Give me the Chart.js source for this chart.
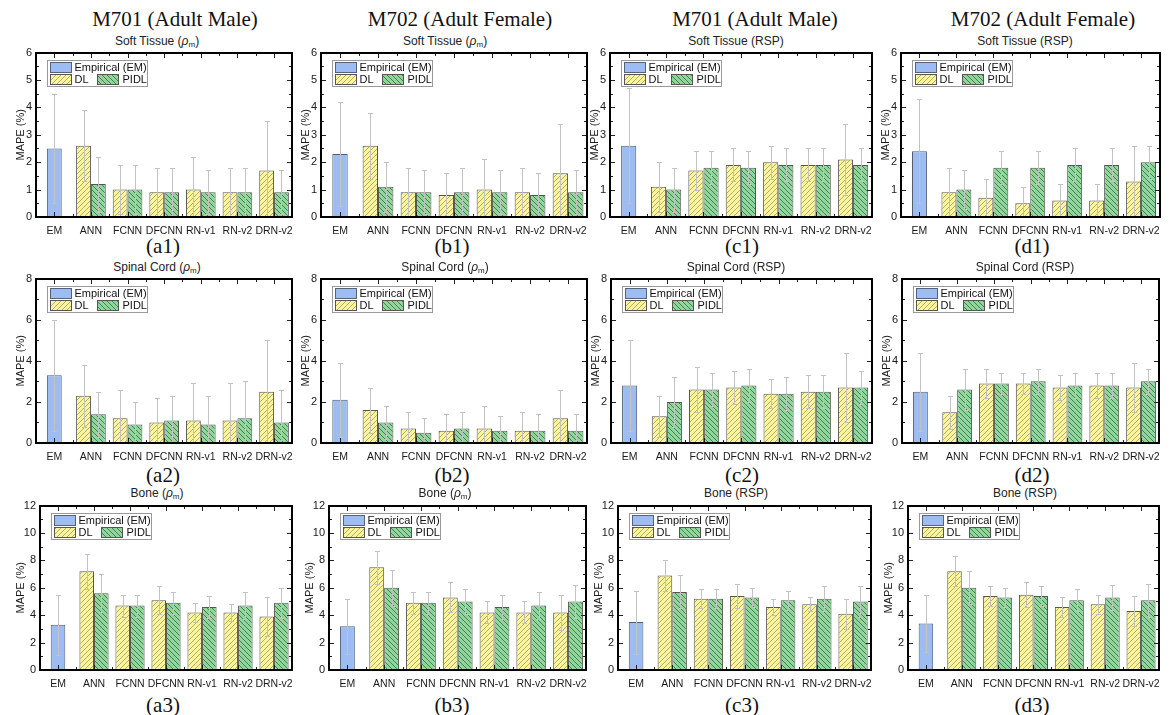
<!DOCTYPE html>
<html>
<head>
<meta charset="utf-8">
<script src="https://cdn.jsdelivr.net/npm/chart.js@4.4.1/dist/chart.umd.min.js"></script>
<style>
body { margin: 0; background: #fff; }
#fig { position: relative; width: 1174px; height: 715px; overflow: hidden; font-family: Arial, "Liberation Sans", sans-serif; }
.t { position: absolute; transform: translate(-50%, -50%); white-space: nowrap; }
.head { font-family: "Liberation Serif", "Times New Roman", serif; font-size: 21px; color: #111; }
.sub { font-size: 12px; color: #222; }
.sub sub { font-size: 8px; vertical-align: -2px; }
.frame { position: absolute; box-sizing: border-box; border: 2px solid #000; pointer-events: none; z-index: 5; }
canvas { position: absolute; }
</style>
</head>
<body>
<div id="fig"></div>
<script>
// categories and panel info
const categories = ["EM", "ANN", "FCNN", "DFCNN", "RN-v1", "RN-v2", "DRN-v2"];
const panelIds = ["a1", "b1", "c1", "d1", "a2", "b2", "c2", "d2", "a3", "b3", "c3", "d3"];
const colTitles = ["M701 (Adult Male)", "M702 (Adult Female)", "M701 (Adult Male)", "M702 (Adult Female)"];
const rowTitles = ["Soft Tissue", "Spinal Cord", "Bone"];
const quantities = ["rho", "rho", "RSP", "RSP"];
const yMax = [6, 8, 12];
const yStep = [1, 2, 2];

// Empirical (EM) mean and error, one per panel
const emMean = [2.5, 2.3, 2.6, 2.4, 3.3, 2.1, 2.8, 2.5, 3.3, 3.2, 3.5, 3.4];
const emErr  = [2.0, 1.9, 2.1, 1.9, 2.7, 1.8, 2.2, 1.9, 2.2, 2.0, 2.3, 2.1];

// DL / PIDL values for ANN, FCNN, DFCNN, RN-v1, RN-v2, DRN-v2
const a1DL = [2.6, 1.0, 0.9, 1.0, 0.9, 1.7], a1DLErr = [1.3, 0.9, 0.9, 1.2, 0.9, 1.8];
const a1PIDL = [1.2, 1.0, 0.9, 0.9, 0.9, 0.9], a1PIDLErr = [1.0, 0.9, 0.9, 0.8, 0.9, 0.8];
const b1DL = [2.6, 0.9, 0.8, 1.0, 0.9, 1.6], b1DLErr = [1.2, 0.9, 0.8, 1.1, 0.9, 1.8];
const b1PIDL = [1.1, 0.9, 0.9, 0.9, 0.8, 0.9], b1PIDLErr = [0.9, 0.8, 0.9, 0.8, 0.8, 0.8];
const c1DL = [1.1, 1.7, 1.9, 2.0, 1.9, 2.1], c1DLErr = [0.9, 0.7, 0.6, 0.6, 0.6, 1.3];
const c1PIDL = [1.0, 1.8, 1.8, 1.9, 1.9, 1.9], c1PIDLErr = [0.8, 0.6, 0.6, 0.6, 0.6, 0.6];
const d1DL = [0.9, 0.7, 0.5, 0.6, 0.6, 1.3], d1DLErr = [0.9, 0.7, 0.6, 0.6, 0.6, 1.3];
const d1PIDL = [1.0, 1.8, 1.8, 1.9, 1.9, 2.0], d1PIDLErr = [0.7, 0.6, 0.6, 0.6, 0.6, 0.6];

const a2DL = [2.3, 1.2, 1.0, 1.1, 1.1, 2.5], a2DLErr = [1.5, 1.4, 1.2, 1.8, 1.8, 2.5];
const a2PIDL = [1.4, 0.9, 1.1, 0.9, 1.2, 1.0], a2PIDLErr = [1.1, 1.1, 1.2, 1.4, 1.8, 1.6];
const b2DL = [1.6, 0.7, 0.6, 0.7, 0.6, 1.2], b2DLErr = [1.1, 0.8, 0.8, 1.1, 0.9, 1.4];
const b2PIDL = [1.0, 0.5, 0.7, 0.6, 0.6, 0.6], b2PIDLErr = [0.8, 0.7, 0.8, 0.7, 0.8, 0.8];
const c2DL = [1.3, 2.6, 2.7, 2.4, 2.5, 2.7], c2DLErr = [1.0, 1.1, 0.8, 0.7, 0.8, 1.7];
const c2PIDL = [2.0, 2.6, 2.8, 2.4, 2.5, 2.7], c2PIDLErr = [1.2, 0.8, 0.8, 0.8, 0.8, 0.8];
const d2DL = [1.5, 2.9, 2.9, 2.7, 2.8, 2.7], d2DLErr = [0.8, 0.7, 0.5, 0.6, 0.6, 1.2];
const d2PIDL = [2.6, 2.9, 3.0, 2.8, 2.8, 3.0], d2PIDLErr = [1.0, 0.5, 0.6, 0.6, 0.6, 0.6];

const a3DL = [7.2, 4.7, 5.1, 4.2, 4.2, 3.9], a3DLErr = [1.3, 0.8, 1.0, 0.7, 0.6, 1.4];
const a3PIDL = [5.6, 4.7, 4.9, 4.6, 4.7, 4.9], a3PIDLErr = [1.4, 0.8, 0.8, 0.8, 1.0, 1.1];
const b3DL = [7.5, 4.9, 5.3, 4.2, 4.2, 4.2], b3DLErr = [1.2, 0.8, 1.1, 0.8, 0.8, 1.3];
const b3PIDL = [6.0, 4.9, 5.0, 4.6, 4.7, 5.0], b3PIDLErr = [1.3, 0.8, 0.9, 0.9, 1.0, 1.2];
const c3DL = [6.9, 5.2, 5.4, 4.6, 4.8, 4.1], c3DLErr = [1.1, 0.7, 0.9, 0.6, 0.5, 1.1];
const c3PIDL = [5.7, 5.2, 5.3, 5.1, 5.2, 5.0], c3PIDLErr = [1.2, 0.7, 0.7, 0.7, 0.9, 1.1];
const d3DL = [7.2, 5.4, 5.5, 4.6, 4.8, 4.3], d3DLErr = [1.1, 0.7, 0.9, 0.7, 0.7, 1.1];
const d3PIDL = [6.0, 5.3, 5.4, 5.1, 5.3, 5.1], d3PIDLErr = [1.2, 0.7, 0.7, 0.8, 0.9, 1.2];

const dlMeans = [a1DL, b1DL, c1DL, d1DL, a2DL, b2DL, c2DL, d2DL, a3DL, b3DL, c3DL, d3DL];
const dlErrs = [a1DLErr, b1DLErr, c1DLErr, d1DLErr, a2DLErr, b2DLErr, c2DLErr, d2DLErr, a3DLErr, b3DLErr, c3DLErr, d3DLErr];
const pidlMeans = [a1PIDL, b1PIDL, c1PIDL, d1PIDL, a2PIDL, b2PIDL, c2PIDL, d2PIDL, a3PIDL, b3PIDL, c3PIDL, d3PIDL];
const pidlErrs = [a1PIDLErr, b1PIDLErr, c1PIDLErr, d1PIDLErr, a2PIDLErr, b2PIDLErr, c2PIDLErr, d2PIDLErr, a3PIDLErr, b3PIDLErr, c3PIDLErr, d3PIDLErr];

// layout of the plot areas (pixels on the page)
const plotLeft = [[36, 321, 610, 901], [36, 321, 611, 902], [40, 329, 618, 908]];
const plotRight = [297, 591, 876, 1164];
const plotTop = [50, 276, 503];
const plotBottom = [217, 443, 670];
const colCenter = [175, 460, 755, 1043];
const subCenter = [157, 445, 736, 1025];
const labelCenter = [163, 452, 742, 1032];
const subY = [41, 267, 493];
const labelY = [246, 475, 705];

const fig = document.getElementById('fig');

function addText(cls, html, x, y) {
    const d = document.createElement('div');
    d.className = 't ' + cls;
    d.innerHTML = html;
    d.style.left = x + 'px';
    d.style.top = y + 'px';
    fig.appendChild(d);
}

//Hatch fills
function hatch(bg, fg, dir) {
    const s = 5;
    const c = document.createElement('canvas');
    c.width = s; c.height = s;
    const g = c.getContext('2d');
    g.fillStyle = bg;
    g.fillRect(0, 0, s, s);
    g.strokeStyle = fg;
    g.lineWidth = 1;
    g.beginPath();
    if (dir > 0) {
        g.moveTo(-1, s + 1); g.lineTo(s + 1, -1);
        g.moveTo(-1, 1); g.lineTo(1, -1);
        g.moveTo(s - 1, s + 1); g.lineTo(s + 1, s - 1);
    } else {
        g.moveTo(-1, -1); g.lineTo(s + 1, s + 1);
        g.moveTo(s - 1, -1); g.lineTo(s + 1, 1);
        g.moveTo(-1, s - 1); g.lineTo(1, s + 1);
    }
    g.stroke();
    return g.createPattern(c, 'repeat');
}

const emFill = '#9dbdf2';
const dlFill = hatch('#f8f4a4', '#b9b04c', 1);
const pidlFill = hatch('#93d39c', '#3a8750', -1);
const frameColor = '#222222';

// error bars, inward ticks and the legend box
const overlayPlugin = {
    id: 'overlay',
    afterDatasetsDraw(chart) {
        const ctx = chart.ctx, a = chart.chartArea, ys = chart.scales.y;
        ctx.save();
        ctx.strokeStyle = '#c2c2c2';
        ctx.lineWidth = 1;
        chart.data.datasets.forEach((ds, i) => {
            chart.getDatasetMeta(i).data.forEach((bar, j) => {
                const v = ds.data[j];
                if (v === null) return;
                const e = ds.errors[j];
                const px = Math.round(bar.x) + 0.5;
                const top = Math.round(ys.getPixelForValue(v + e)) + 0.5;
                const bot = Math.round(ys.getPixelForValue(Math.max(0, v - e))) + 0.5;
                ctx.beginPath();
                ctx.moveTo(px, top); ctx.lineTo(px, bot);
                ctx.moveTo(px - 2.5, top); ctx.lineTo(px + 2.5, top);
                ctx.moveTo(px - 2.5, bot); ctx.lineTo(px + 2.5, bot);
                ctx.stroke();
            });
        });

        // inward ticks
        const L = Math.round(a.left), R = Math.round(a.right);
        const T = Math.round(a.top), B = Math.round(a.bottom);
        ctx.fillStyle = frameColor;
        const step = ys.options.ticks.stepSize;
        for (let v = 0; v <= ys.max + 1e-9; v += step / 2) {
            const py = Math.round(ys.getPixelForValue(v));
            const len = Math.abs(v / step - Math.round(v / step)) < 1e-6 ? 5 : 3;
            ctx.fillRect(L, py, len, 1);
            ctx.fillRect(R - len, py, len, 1);
        }
        const n = categories.length, cw = (a.right - a.left) / n;
        for (let k = 1; k < 2 * n; k++) {
            const px = Math.round(a.left + k * cw / 2);
            const len = k % 2 === 1 ? 5 : 3;
            ctx.fillRect(px, T, 1, len);
            ctx.fillRect(px, B - len, 1, len);
        }

        // legend
        const bx = L + 11.5, by = T + 7.5;
        ctx.fillStyle = '#ffffff';
        ctx.fillRect(bx, by, 100, 26);
        ctx.strokeStyle = '#9a9a9a';
        ctx.strokeRect(bx, by, 100, 26);
        const sw = (x, y, fill, border) => {
            ctx.fillStyle = fill;
            ctx.fillRect(x, y, 21, 10);
            ctx.strokeStyle = border;
            ctx.strokeRect(x, y, 21, 10);
        };
        sw(bx + 3, by + 2, emFill, '#55627a');
        sw(bx + 3, by + 14, dlFill, '#555');
        sw(bx + 50, by + 14, pidlFill, '#555');
        ctx.fillStyle = '#111';
        ctx.font = '11px Arial, "Liberation Sans", sans-serif';
        ctx.textBaseline = 'middle';
        ctx.textAlign = 'left';
        ctx.fillText('Empirical (EM)', bx + 27, by + 7.5);
        ctx.fillText('DL', bx + 27, by + 19.5);
        ctx.fillText('PIDL', bx + 75, by + 19.5);
        ctx.restore();
    }
};

function makeChart(k) {
    const row = Math.floor(k / 4), col = k % 4;
    const yW = row === 2 ? 26 : 22;
    const xH = 22, padTop = 8, padRight = 4;
    const left = plotLeft[row][col] - yW;
    const top = plotTop[row] - padTop;
    const w = plotRight[col] + padRight - left;
    const h = plotBottom[row] - plotTop[row] + padTop + xH;

    const cv = document.createElement('canvas');
    cv.width = w; cv.height = h;
    cv.style.left = left + 'px';
    cv.style.top = top + 'px';
    fig.appendChild(cv);

    const nulls = categories.slice(1).map(() => null);
    const noGrid = { display: false, drawTicks: false };
    const edge = { display: true, color: frameColor, width: 2 };
    const chart = new Chart(cv.getContext('2d'), {
        type: 'bar',
        data: {
            labels: categories,
            datasets: [
                {
                    label: 'Empirical (EM)', data: [emMean[k], ...nulls], errors: [emErr[k], ...nulls],
                    backgroundColor: emFill, borderColor: '#4f5c75', borderWidth: 1,
                    barPercentage: 0.5, categoryPercentage: 0.81, skipNull: true
                },
                {
                    label: 'DL', data: [null, ...dlMeans[k]], errors: [null, ...dlErrs[k]],
                    backgroundColor: dlFill, borderColor: '#555', borderWidth: 1,
                    barPercentage: 1, categoryPercentage: 0.81, skipNull: true
                },
                {
                    label: 'PIDL', data: [null, ...pidlMeans[k]], errors: [null, ...pidlErrs[k]],
                    backgroundColor: pidlFill, borderColor: '#555', borderWidth: 1,
                    barPercentage: 1, categoryPercentage: 0.81, skipNull: true
                }
            ]
        },
        options: {
            responsive: false,
            animation: false,
            devicePixelRatio: 1,
            layout: { padding: { top: padTop, right: padRight, left: 0, bottom: 0 } },
            plugins: { legend: { display: false }, tooltip: { enabled: false } },
            scales: {
                x: {
                    grid: noGrid, border: edge,
                    ticks: { color: '#1a1a1a', font: { size: 10.5, family: 'Arial' }, padding: 8, maxRotation: 0, autoSkip: false },
                    afterFit: s => { s.height = xH; }
                },
                y: {
                    min: 0, max: yMax[row],
                    grid: noGrid, border: edge,
                    ticks: { stepSize: yStep[row], color: '#1a1a1a', font: { size: 11, family: 'Arial' }, padding: 4 },
                    title: { display: true, text: 'MAPE (%)', color: '#1a1a1a', font: { size: 11, family: 'Arial' }, padding: { top: 0, bottom: 0 } },
                    afterFit: s => { s.width = yW; }
                }
            }
        },
        plugins: [overlayPlugin]
    });

    // box round the plot area, placed from the chart's own area
    const a = chart.chartArea || { left: yW, top: padTop, right: w - padRight, bottom: h - xH };
    const f = document.createElement('div');
    f.className = 'frame';
    f.style.left = (left + Math.round(a.left) - 1) + 'px';
    f.style.top = (top + Math.round(a.top) - 1) + 'px';
    f.style.width = (Math.round(a.right) - Math.round(a.left) + 2) + 'px';
    f.style.height = (Math.round(a.bottom) - Math.round(a.top) + 2) + 'px';
    fig.appendChild(f);
}

// texts
colTitles.forEach((t, c) => addText('head', t, colCenter[c], 19));
for (let k = 0; k < 12; k++) {
    const row = Math.floor(k / 4), col = k % 4;
    const q = quantities[col] === 'rho' ? '<i>&rho;</i><sub>m</sub>' : 'RSP';
    addText('sub', rowTitles[row] + ' (' + q + ')', subCenter[col], subY[row]);
    addText('head', '(' + panelIds[k] + ')', labelCenter[col], labelY[row]);
    makeChart(k);
}
</script>
</body>
</html>
